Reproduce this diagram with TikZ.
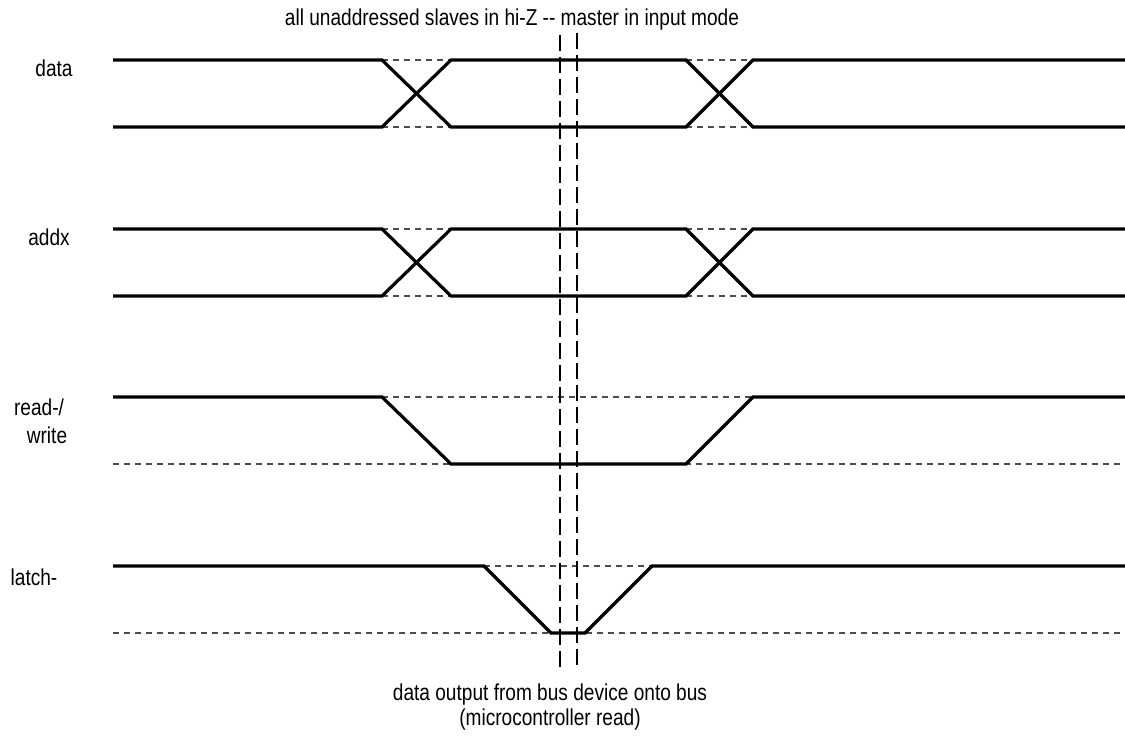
\documentclass[tikz,border=0pt]{standalone}
\usepackage{fontspec}
\setmainfont{Liberation Sans}[FakeStretch=0.83]
\usetikzlibrary{positioning}

\begin{document}
\begin{tikzpicture}[x=1pt, y=-1pt,
  sig/.style={line width=3.2pt, line join=miter},
  level/.style={gray!60!black, line width=1.2pt, dash pattern=on 6pt off 5pt},
  guide/.style={line width=1.2pt, dash pattern=on 16pt off 6pt},
  lbl/.style={inner sep=0pt, anchor=base, font=\fontsize{23}{27}\selectfont},
  note/.style={inner sep=0pt, anchor=base, align=center, font=\fontsize{23}{24}\selectfont}]
\useasboundingbox (0,0) rectangle (1125,741);

% signal names
\node[lbl] (data) at (54,77) {data};
\node[lbl] (addx) at (49,245) {addx};
\node[lbl] (rd) at (39,415) {read-/};
\node[lbl] (wr) at (47,443) {write};
\node[lbl] (latch) at (34,585) {latch-};

% dashed levels
\draw[level] (382,60) -- (451,60);
\draw[level] (382,127) -- (451,127);
\draw[level] (686,60) -- (753,60);
\draw[level] (686,127) -- (753,127);
\draw[level] (382,229) -- (451,229);
\draw[level] (382,296) -- (451,296);
\draw[level] (686,229) -- (753,229);
\draw[level] (686,296) -- (753,296);
\draw[level] (382,397) -- (753,397);
\draw[level] (113,464) -- (1125,464);
\draw[level] (484,566) -- (652,566);
\draw[level] (113,633) -- (1125,633);

% data and addx buses
\foreach \hi/\lo in {60/127, 229/296} {
  \draw[sig] (113,\hi) -- (382,\hi) -- (451,\lo) -- (686,\lo) -- (753,\hi) -- (1125,\hi);
  \draw[sig] (113,\lo) -- (382,\lo) -- (451,\hi) -- (686,\hi) -- (753,\lo) -- (1125,\lo);
}

% read-/write
\draw[sig] (113,397) -- (382,397) -- (451,464) -- (686,464) -- (753,397) -- (1125,397);

% latch-
\draw[sig] (113,566) -- (484,566) -- (551,633) -- (585,633) -- (652,566) -- (1125,566);

% read window
\draw[guide] (560,35) -- (560,668);
\draw[guide] (577,33) -- (577,668);

\node[note] (top) at (512,26) {all unaddressed slaves in hi-Z -{}- master in input mode};
\node[note] (bot) at (550,700) {data output from bus device onto bus};
\node[note] (bot2) at (550,725) {(microcontroller read)};
\end{tikzpicture}
\end{document}
